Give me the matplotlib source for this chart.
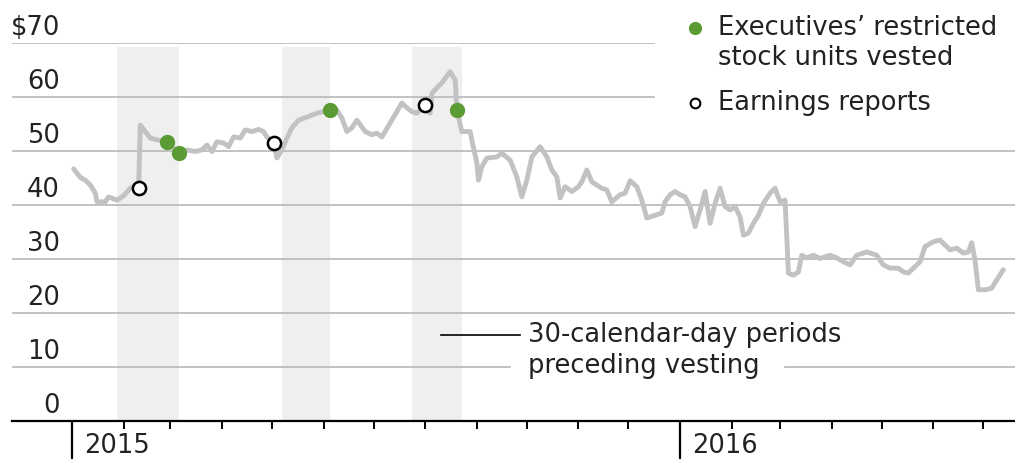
import numpy as np
import pandas as pd
import matplotlib
matplotlib.use("Agg")
import matplotlib.pyplot as plt
import matplotlib.dates as mdates
from matplotlib.lines import Line2D
from matplotlib.ticker import FixedLocator

plt.rcParams['font.family'] = ['DejaVu Sans']

# share price
price_dates = ['2015-01-02', '2015-01-06', '2015-01-09', '2015-01-12', '2015-01-15', '2015-01-16',
               '2015-01-21', '2015-01-23', '2015-01-28', '2015-02-01', '2015-02-05', '2015-02-08',
               '2015-02-10', '2015-02-11', '2015-02-14', '2015-02-17', '2015-02-22', '2015-02-27',
               '2015-03-03', '2015-03-06', '2015-03-11', '2015-03-16', '2015-03-20', '2015-03-23',
               '2015-03-26', '2015-03-29', '2015-04-02', '2015-04-05', '2015-04-08', '2015-04-12',
               '2015-04-15', '2015-04-19', '2015-04-23', '2015-04-26', '2015-04-28', '2015-05-02',
               '2015-05-04', '2015-05-07', '2015-05-10', '2015-05-13', '2015-05-17', '2015-05-23',
               '2015-05-28', '2015-06-05', '2015-06-09', '2015-06-12', '2015-06-15', '2015-06-18',
               '2015-06-21', '2015-06-26', '2015-06-30', '2015-07-03', '2015-07-06', '2015-07-11',
               '2015-07-15', '2015-07-18', '2015-07-21', '2015-07-24', '2015-07-27', '2015-08-01',
               '2015-08-04', '2015-08-05', '2015-08-08', '2015-08-11', '2015-08-16', '2015-08-19',
               '2015-08-20', '2015-08-23', '2015-08-28', '2015-08-29', '2015-09-01', '2015-09-02',
               '2015-09-04', '2015-09-07', '2015-09-13', '2015-09-16', '2015-09-21', '2015-09-25',
               '2015-09-28', '2015-10-01', '2015-10-04', '2015-10-09', '2015-10-13', '2015-10-16',
               '2015-10-19', '2015-10-21', '2015-10-24', '2015-10-28', '2015-11-01', '2015-11-03',
               '2015-11-06', '2015-11-09', '2015-11-12', '2015-11-15', '2015-11-18', '2015-11-21',
               '2015-11-26', '2015-11-29', '2015-12-02', '2015-12-06', '2015-12-09', '2015-12-12',
               '2015-12-17', '2015-12-21', '2015-12-23', '2015-12-26', '2015-12-29', '2016-01-01',
               '2016-01-04', '2016-01-07', '2016-01-10', '2016-01-13', '2016-01-16', '2016-01-19',
               '2016-01-22', '2016-01-25', '2016-01-28', '2016-01-31', '2016-02-03', '2016-02-06',
               '2016-02-08', '2016-02-11', '2016-02-14', '2016-02-17', '2016-02-20', '2016-02-24',
               '2016-02-27', '2016-03-01', '2016-03-04', '2016-03-06', '2016-03-09', '2016-03-12',
               '2016-03-14', '2016-03-17', '2016-03-21', '2016-03-25', '2016-03-31', '2016-04-04',
               '2016-04-08', '2016-04-12', '2016-04-16', '2016-04-22', '2016-04-28', '2016-05-02',
               '2016-05-06', '2016-05-11', '2016-05-14', '2016-05-17', '2016-05-21', '2016-05-24',
               '2016-05-27', '2016-06-01', '2016-06-05', '2016-06-08', '2016-06-11', '2016-06-15',
               '2016-06-19', '2016-06-22', '2016-06-24', '2016-06-26', '2016-06-28', '2016-07-02',
               '2016-07-06', '2016-07-09', '2016-07-13']
price = [46.7, 45.1, 44.6, 43.7, 42.2, 40.6,
         40.6, 41.5, 40.9, 41.7, 43.1, 43.7,
         43.1, 54.8, 53.6, 52.4, 52.0, 51.7,
         50.5, 49.6, 50.2, 49.9, 50.2, 51.1,
         49.9, 51.7, 51.5, 50.8, 52.6, 52.4,
         53.9, 53.6, 54.0, 53.6, 52.6, 51.5,
         48.7, 50.2, 52.4, 54.3, 55.7, 56.4,
         57.0, 57.6, 57.6, 56.1, 53.6, 54.3,
         55.7, 53.6, 53.0, 53.3, 52.6, 55.2,
         57.3, 58.9, 58.0, 57.3, 57.0, 58.5,
         57.0, 60.7, 61.7, 62.6, 64.7, 63.1,
         57.6, 53.6, 53.6, 52.0, 47.8, 44.6,
         47.1, 48.7, 48.9, 49.6, 48.3, 45.2,
         41.5, 44.6, 48.9, 50.8, 48.9, 46.5,
         45.2, 41.3, 43.4, 42.5, 43.4, 44.3,
         46.5, 44.3, 43.7, 43.1, 42.8, 40.6,
         41.9, 42.2, 44.5, 43.4, 40.9, 37.6,
         38.1, 38.5, 40.6, 41.9, 42.5, 41.9,
         41.5, 39.7, 36.0, 39.1, 42.5, 36.6,
         40.3, 43.1, 39.7, 39.1, 39.7, 37.8,
         34.4, 34.8, 36.6, 38.1, 40.3, 42.2,
         43.1, 40.6, 40.9, 27.4, 27.0, 27.6,
         30.7, 30.2, 30.7, 30.1, 30.7, 30.2,
         29.5, 28.9, 30.7, 31.3, 30.7, 28.9,
         28.3, 28.3, 27.6, 27.4, 28.6, 29.5,
         32.3, 33.2, 33.5, 32.6, 31.7, 32.0,
         31.1, 31.3, 33.0, 29.8, 24.3, 24.3,
         24.6, 26.1, 28.0]

vest_dates = ['2015-02-27', '2015-03-06', '2015-06-05', '2015-08-20']
vest_price = [51.7, 49.6, 57.6, 57.6]
earn_dates = ['2015-02-10', '2015-05-02', '2015-08-01']
earn_price = [43.1, 51.5, 58.6]
band_start = ['2015-01-28', '2015-05-07', '2015-07-24']
band_end = ['2015-03-06', '2015-06-05', '2015-08-23']

yticks = [0, 10, 20, 30, 40, 50, 60, 70]
ylabels = ['0', '10', '20', '30', '40', '50', '60', '$70']
years = ['2015', '2016']

green = '#5a9b34'
grid_c = '#b8b8b8'
txt_c = '#222222'
fs = 18.5

fig = plt.figure(figsize=(10.15, 4.59), dpi=100)
ax = fig.add_axes([12 / 1015, 38 / 459, 1003 / 1015, 378 / 459])
ax.set_xlim(pd.Timestamp('2014-11-26'), pd.Timestamp('2016-07-20'))
ax.set_ylim(0, 70)

for s, e in zip(band_start, band_end):
    ax.axvspan(pd.Timestamp(s), pd.Timestamp(e), ymin=0, ymax=69.2 / 70,
               color='#efefef', lw=0, zorder=0)

# gridlines (some stop short for the legend / note)
for y in yticks[1:]:
    if y >= 60:
        ax.axhline(y, xmin=0, xmax=0.64, color=grid_c, lw=1.2, zorder=1)
    elif y == 10:
        ax.axhline(y, xmin=0, xmax=0.4965, color=grid_c, lw=1.2, zorder=1)
        ax.axhline(y, xmin=0.771, xmax=1, color=grid_c, lw=1.2, zorder=1)
    else:
        ax.axhline(y, xmin=0, xmax=1, color=grid_c, lw=1.2, zorder=1)

for y, lab in zip(yticks, ylabels):
    ax.text(48 / 1003, y + 1.4, lab, transform=ax.get_yaxis_transform(),
            ha='right', va='baseline', fontsize=fs, color=txt_c)

ax.plot(pd.to_datetime(price_dates), price, color='#c2c2c2', lw=3.5,
        solid_joinstyle='round', solid_capstyle='round', zorder=2)
ax.plot(pd.to_datetime(vest_dates), vest_price, 'o', color=green, ms=10,
        mec=green, zorder=3)
ax.plot(pd.to_datetime(earn_dates), earn_price, 'o', mfc='white', mec='black',
        ms=9.5, mew=1.8, zorder=3)

# axis
for sp in ['top', 'right', 'left']:
    ax.spines[sp].set_visible(False)
ax.spines['bottom'].set_linewidth(1.6)
ax.spines['bottom'].set_zorder(4)
ax.set_yticks([])
ax.xaxis.set_major_locator(mdates.YearLocator())
months = pd.date_range('2015-02-01', '2016-07-01', freq='MS')
ax.xaxis.set_minor_locator(FixedLocator(mdates.date2num(months)))
ax.xaxis.set_major_formatter(plt.NullFormatter())
ax.tick_params(axis='x', which='major', length=28, width=1.6, color='black')
ax.tick_params(axis='x', which='minor', length=6, width=1.4, color='black')

for yr in years:
    ax.annotate(yr, xy=(pd.Timestamp(yr + '-01-01'), 0), xytext=(9, -23),
                textcoords='offset points', ha='left', va='baseline',
                fontsize=fs, color=txt_c, annotation_clip=False)

# note for shaded bands
ax.plot([0.4277, 0.5065], [15.9, 15.9], color='black', lw=1.2,
        transform=ax.get_yaxis_transform())
ax.text(0.5145, 15.9, '30-calendar-day periods', transform=ax.get_yaxis_transform(),
        ha='left', va='center', fontsize=fs, color=txt_c)
ax.text(0.5145, 10.2, 'preceding vesting', transform=ax.get_yaxis_transform(),
        ha='left', va='center', fontsize=fs, color=txt_c)

# legend
fig.add_artist(Line2D([695 / 1015], [1 - 28 / 459], marker='o', color=green, ms=8.5, lw=0))
fig.add_artist(Line2D([695 / 1015], [1 - 103 / 459], marker='o', mfc='white', mec='black',
                      ms=7, mew=1.5, lw=0))
fig.text(718 / 1015, 1 - 28 / 459, 'Executives\u2019 restricted', ha='left', va='center',
         fontsize=fs, color=txt_c)
fig.text(718 / 1015, 1 - 58 / 459, 'stock units vested', ha='left', va='center',
         fontsize=fs, color=txt_c)
fig.text(718 / 1015, 1 - 103 / 459, 'Earnings reports', ha='left', va='center',
         fontsize=fs, color=txt_c)

fig.savefig('out.png', dpi=100)
